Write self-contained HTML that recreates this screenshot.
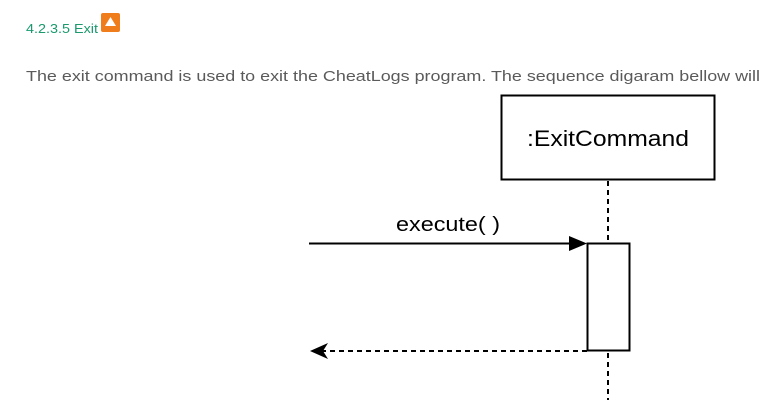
<!DOCTYPE html>
<html><head><style>html,body{margin:0;padding:0;background:#fff;width:779px;height:407px;overflow:hidden}</style></head>
<body>
<svg width="779" height="407" xmlns="http://www.w3.org/2000/svg" font-family="Liberation Sans, sans-serif">
<text x="26" y="33" font-size="12.5" fill="#1a9a6c" textLength="72" lengthAdjust="spacingAndGlyphs">4.2.3.5 Exit</text>
<rect x="101" y="13" width="19" height="19" rx="2" fill="#f07d1c"/>
<polygon points="110.5,17 116,26 105,26" fill="#fff"/>
<text x="26" y="81" font-size="15" fill="#5a5a5a" textLength="734" lengthAdjust="spacingAndGlyphs">The exit command is used to exit the CheatLogs program. The sequence digaram bellow will</text>
<rect x="501.5" y="95.5" width="213" height="84" fill="#fff" stroke="#000" stroke-width="2"/>
<text x="608" y="146" font-size="22" text-anchor="middle" fill="#000" textLength="162" lengthAdjust="spacingAndGlyphs">:ExitCommand</text>
<line x1="608" y1="181" x2="608" y2="243" stroke="#000" stroke-width="2" stroke-dasharray="5,4"/>
<line x1="608" y1="353" x2="608" y2="400" stroke="#000" stroke-width="2" stroke-dasharray="5,4"/>
<text x="396" y="231" font-size="20" fill="#000" textLength="104" lengthAdjust="spacingAndGlyphs">execute( )</text>
<line x1="309" y1="243.5" x2="572" y2="243.5" stroke="#000" stroke-width="2"/>
<polygon points="569,236 587,243.5 569,251" fill="#000"/>
<rect x="587.5" y="243.5" width="42" height="107" fill="#fff" stroke="#000" stroke-width="2"/>
<line x1="587" y1="351" x2="316" y2="351" stroke="#000" stroke-width="2" stroke-dasharray="5,4"/>
<polygon points="310,351 328,343 323,351 328,359" fill="#000"/>
</svg>
</body></html>
